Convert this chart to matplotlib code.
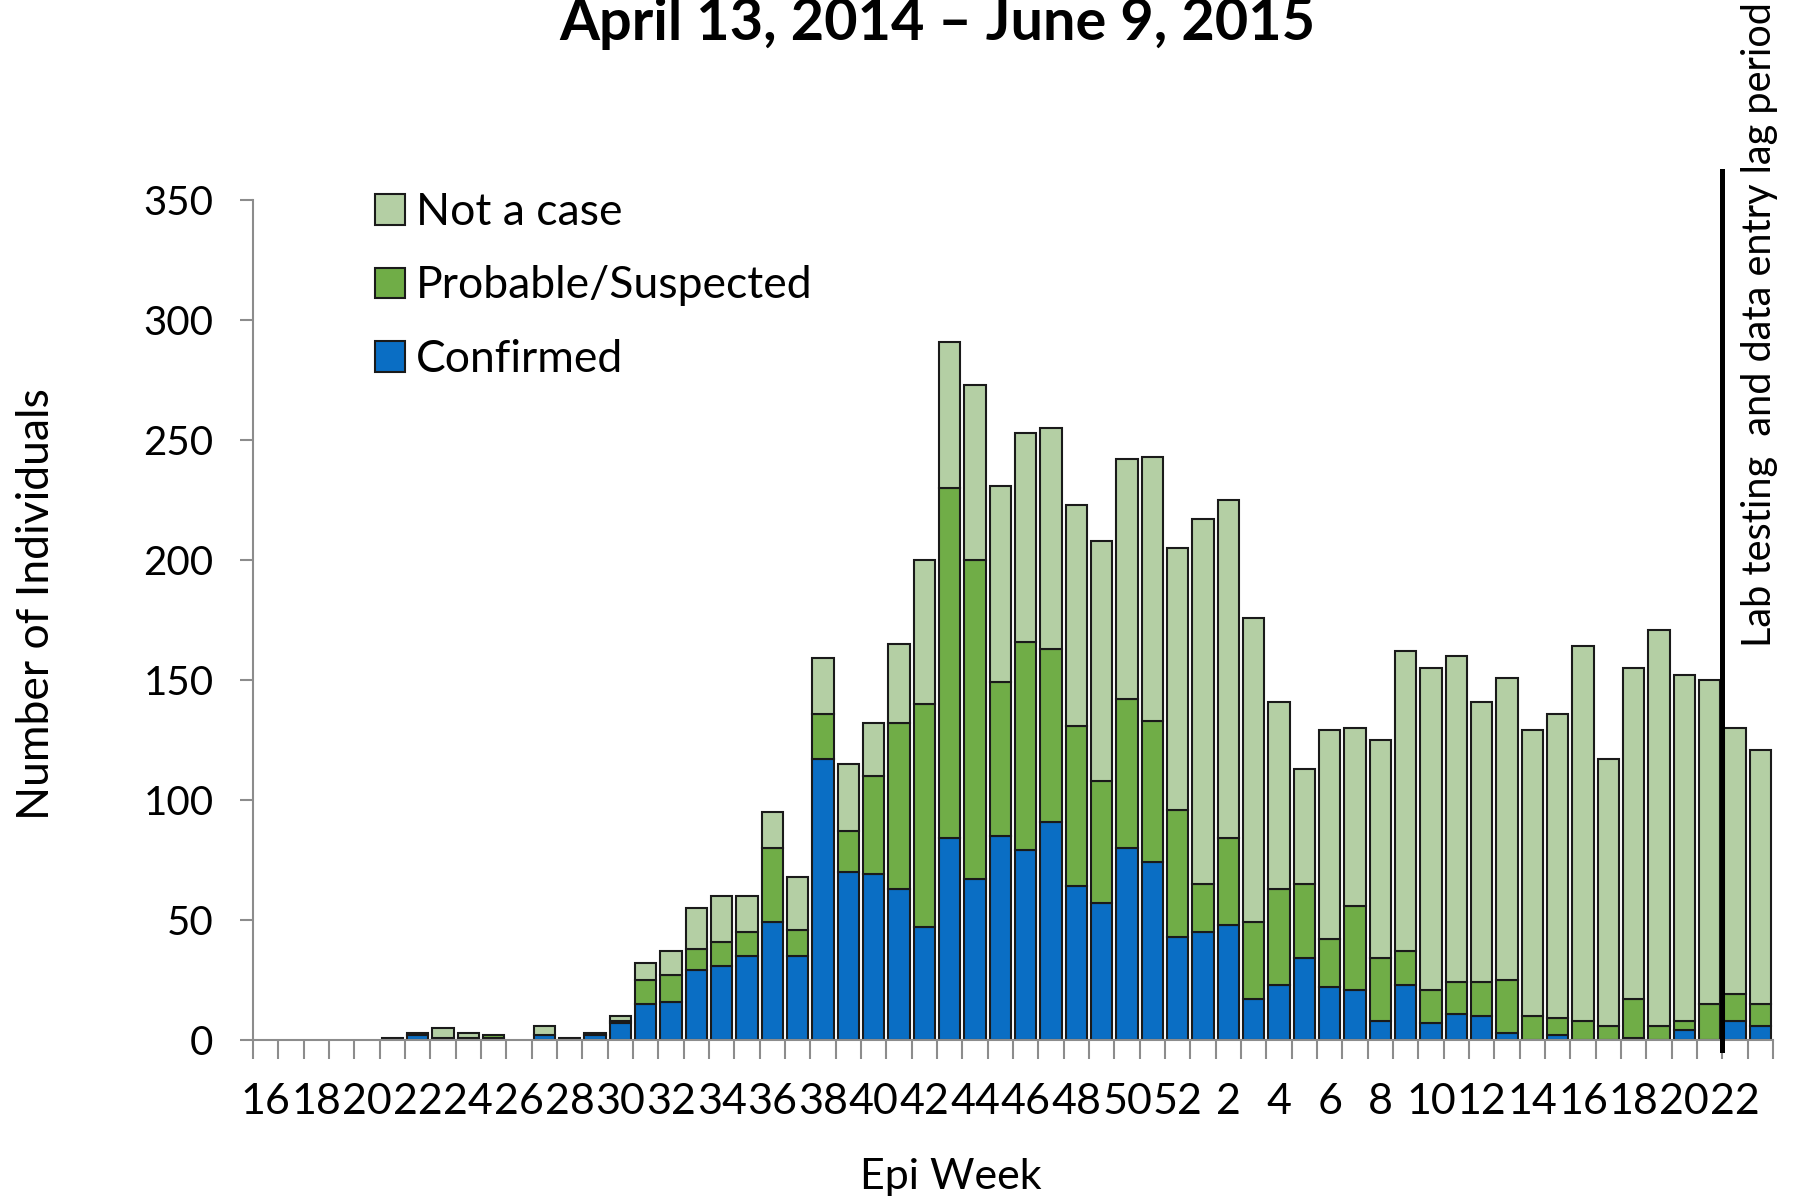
import matplotlib
matplotlib.use("Agg")
import matplotlib.pyplot as plt
from matplotlib.patches import Patch
import numpy as np

plt.rcParams["font.family"] = ["Lato", "DejaVu Sans"]

# epi weeks 16..52 of 2014, then 1..23 of 2015
weeks = list(range(16, 53)) + list(range(1, 24))

confirmed = [0, 0, 0, 0, 0, 0, 2, 0, 1, 1, 0, 2, 1, 2, 7, 15, 16, 29, 31, 35,
             49, 35, 117, 70, 69, 63, 47, 84, 67, 85, 79, 91, 64, 57, 80, 74, 43, 45, 48, 17,
             23, 34, 22, 21, 8, 23, 7, 11, 10, 3, 0, 2, 0, 0, 1, 0, 4, 0, 8, 6]
probable = [0, 0, 0, 0, 0, 1, 1, 1, 0, 1, 0, 0, 0, 1, 1, 10, 11, 9, 10, 10,
            31, 11, 19, 17, 41, 69, 93, 146, 133, 64, 87, 72, 67, 51, 62, 59, 53, 20, 36, 32,
            40, 31, 20, 35, 26, 14, 14, 13, 14, 22, 10, 7, 8, 6, 16, 6, 4, 15, 11, 9]
not_a_case = [0, 0, 0, 0, 0, 0, 0, 4, 2, 0, 0, 4, 0, 0, 2, 7, 10, 17, 19, 15,
              15, 22, 23, 28, 22, 33, 60, 61, 73, 82, 87, 92, 92, 100, 100, 110, 109, 152, 141, 127,
              78, 48, 87, 74, 91, 125, 134, 136, 117, 126, 119, 127, 156, 111, 138, 165, 144, 135, 111, 106]

series = [("Confirmed", confirmed, "#0A6EC4"),
          ("Probable/Suspected", probable, "#70AD47"),
          ("Not a case", not_a_case, "#B4CFA4")]

LAG_START = 57.5  # boundary between week 21 and week 22 of 2015
GREY = "#8c8c8c"
EDGE = "#1a1a1a"

fig = plt.figure(figsize=(17.96, 11.96), dpi=100)
ax = fig.add_axes([0.1409, 0.1304, 0.8463, 0.7024])

x = np.arange(len(weeks))
bottom = np.zeros(len(weeks))
colors = {}
for name, values, color in series:
    values = np.array(values, dtype=float)
    lw = np.where(values > 0, 1.5, 0.0)
    ax.bar(x, values, width=0.84, bottom=bottom, color=color,
           edgecolor=EDGE, linewidth=lw, zorder=2)
    colors[name] = color
    bottom += values

ax.set_xlim(-0.5, len(weeks) - 0.5)
ax.set_ylim(0, 350)
ax.set_yticks(range(0, 351, 50))
ax.set_xticks(x[::2])
ax.set_xticklabels([str(w) for w in weeks[::2]])
ax.set_xticks(np.arange(-0.5, len(weeks), 1), minor=True)

ax.tick_params(axis="y", length=9.5, width=1.5, color=GREY, pad=19, labelsize=29)
ax.tick_params(axis="x", which="major", length=0, pad=31, labelsize=31)
ax.tick_params(axis="x", which="minor", length=14, width=1.5, color=GREY)
for side in ("top", "right"):
    ax.spines[side].set_visible(False)
for side in ("left", "bottom"):
    ax.spines[side].set_color(GREY)
    ax.spines[side].set_linewidth(1.5)

ax.plot([LAG_START, LAG_START], [-4, 362], color="black", lw=3.6,
        clip_on=False, zorder=4)

order = ["Not a case", "Probable/Suspected", "Confirmed"]
legend_handles = [Patch(facecolor=colors[n], edgecolor=EDGE, linewidth=1.5) for n in order]
ax.legend(legend_handles, order, loc="upper left",
          bbox_to_anchor=(375 / 1796, 1 - 192 / 1196), bbox_transform=fig.transFigure,
          frameon=False, fontsize=32, handlelength=0.68, handleheight=0.68,
          handletextpad=0.25, labelspacing=0.73, borderpad=0, borderaxespad=0)

fig.text(937 / 1796, 1 - 40 / 1196, "April 13, 2014 \u2013 June 9, 2015",
         ha="center", va="baseline", fontsize=41.5, fontweight="bold")
fig.text(37 / 1796, 1 - 604 / 1196, "Number of Individuals", rotation=90,
         ha="center", va="center", fontsize=32)
fig.text(951 / 1796, 1 - 1177 / 1196, "Epi Week", ha="center", va="center", fontsize=31)
fig.text(1760 / 1796, 1 - 647 / 1196, "Lab testing  and data entry lag period",
         rotation=90, ha="center", va="bottom", fontsize=28.5)

fig.savefig("out.png", dpi=100)
